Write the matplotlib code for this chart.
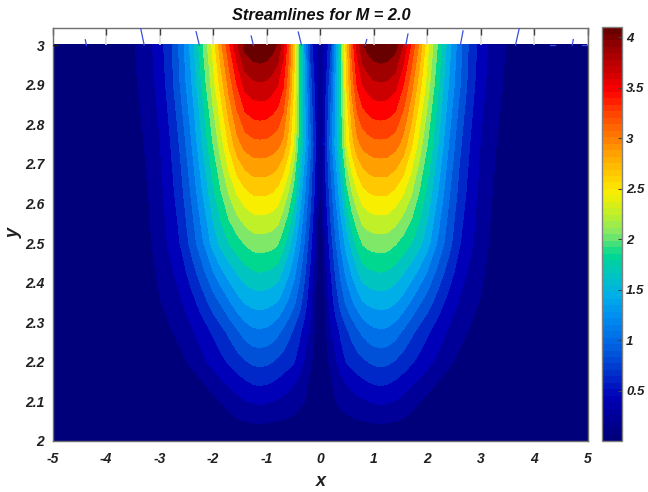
#!/usr/bin/env python3
"""Streamlines for M = 2.0 - filled contours of the field, mirrored about x = 0."""

import numpy as np
import matplotlib
matplotlib.use('Agg')
import matplotlib.pyplot as plt
from matplotlib.colors import ListedColormap, LinearSegmentedColormap, BoundaryNorm, Normalize
from matplotlib.cm import ScalarMappable

plt.rcParams['font.family'] = ['Liberation Sans', 'DejaVu Sans']
plt.rcParams['font.weight'] = 'bold'
plt.rcParams['font.style'] = 'italic'

# field, for x >= 0 only (right half mirrors the left)
x_half = [0, .05, .1, .2, .3, .4, .5, .6, .7, .8, .9, 1.0, 1.13, 1.25, 1.4, 1.55,
          1.7, 1.85, 2.0, 2.2, 2.4, 2.6, 2.8, 3.0, 3.2, 3.5, 4, 5]
y_rows = [2.0, 2.05, 2.1, 2.15, 2.2, 2.275, 2.35, 2.425, 2.5, 2.625, 2.75, 2.9, 3.0]
field_rows = [
    [0, .001, .002, .004, .006, .007, .008, .009, .01, .011, .011, .012, .012, .012,
     .011, .01, .008, .006, .005, .004, .003, .002, .001, .001, .001, 0, 0, 0],
    [.005, .01, .025, .06, .1, .13, .15, .165, .18, .19, .2, .21, .216, .21,
     .195, .17, .135, .105, .08, .055, .035, .025, .015, .01, .006, .004, .002, .001],
    [.01, .02, .05, .12, .2, .24, .28, .31, .34, .365, .385, .405, .42, .405,
     .38, .33, .26, .2, .15, .1, .07, .045, .03, .02, .012, .008, .005, .003],
    [.015, .035, .085, .17, .27, .35, .41, .465, .51, .55, .585, .61, .625, .61,
     .565, .5, .43, .36, .28, .19, .12, .08, .05, .03, .02, .012, .007, .004],
    [.02, .05, .12, .24, .37, .5, .6, .65, .7, .74, .78, .815, .83, .815,
     .76, .69, .61, .53, .45, .34, .23, .15, .09, .06, .04, .02, .01, .005],
    [.025, .065, .16, .355, .5, .63, .74, .84, .93, 1.015, 1.075, 1.115, 1.135, 1.12,
     1.055, .94, .82, .71, .61, .48, .36, .25, .175, .12, .07, .035, .015, .007],
    [.03, .08, .195, .47, .68, .87, 1.02, 1.14, 1.25, 1.35, 1.395, 1.425, 1.44, 1.428,
     1.378, 1.28, 1.14, 1.0, .87, .68, .51, .37, .26, .18, .1, .05, .02, .01],
    [.06, .11, .29, .57, .82, 1.04, 1.23, 1.39, 1.53, 1.66, 1.71, 1.73, 1.75, 1.73,
     1.67, 1.57, 1.45, 1.31, 1.15, .9, .68, .48, .34, .23, .13, .06, .02, .01],
    [.1, .15, .39, .68, .97, 1.22, 1.45, 1.64, 1.82, 1.97, 2.02, 2.04, 2.05, 2.04,
     1.97, 1.87, 1.76, 1.62, 1.44, 1.13, .85, .6, .43, .28, .16, .07, .03, .01],
    [.18, .25, .52, .88, 1.2, 1.52, 1.86, 2.13, 2.32, 2.46, 2.52, 2.55, 2.56, 2.55,
     2.48, 2.35, 2.16, 1.93, 1.7, 1.35, 1.0, .71, .5, .33, .2, .09, .03, .01],
    [.25, .36, .62, 1.05, 1.45, 1.85, 2.34, 2.65, 2.87, 2.98, 3.03, 3.06, 3.07, 3.06,
     3.0, 2.85, 2.57, 2.25, 1.95, 1.56, 1.16, .82, .575, .375, .23, .11, .04, .01],
    [.28, .36, .52, .9, 1.4, 1.95, 2.55, 3.0, 3.35, 3.52, 3.6, 3.66, 3.68, 3.66,
     3.58, 3.32, 3.0, 2.62, 2.25, 1.78, 1.35, 1.0, .68, .46, .3, .15, .05, .02],
    [.3, .35, .42, .72, 1.3, 1.95, 2.65, 3.2, 3.6, 3.88, 3.99, 4.06, 4.09, 4.07,
     3.98, 3.68, 3.28, 2.88, 2.4, 1.92, 1.45, 1.05, .72, .5, .33, .17, .06, .02],
]

# contour bands, low to high
band_colors = ['#00007a', '#000098', '#0000b8', '#0028c8', '#0050d8', '#0070e8', '#0090f0',
               '#00aee8', '#00c4c0', '#00d890', '#80e868', '#c0f028', '#f8ee00', '#ffc800',
               '#ffa000', '#ff7000', '#ff4000', '#ff0000', '#cc0000', '#a00000', '#680000']
z_min = 0.0
z_max = 4.1

# streamline stubs poking above y = 3
stub_x_top = [-4.39, -3.355, -2.32, -1.29, -0.41, 0.87, 1.64, 2.67, 3.72, 4.73]
stub_x_bot = [-4.37, -3.29, -2.26, -1.25, -0.35, 0.84, 1.60, 2.62, 3.65, 4.71]
stub_y_top = [3.0134, 3.042, 3.034, 3.023, 3.033, 3.014, 3.028, 3.036, 3.042, 3.014]

x_ticks = [-5, -4, -3, -2, -1, 0, 1, 2, 3, 4, 5]
y_ticks = [2, 2.1, 2.2, 2.3, 2.4, 2.5, 2.6, 2.7, 2.8, 2.9, 3]
y_tick_labels = ['2', '2.1', '2.2', '2.3', '2.4', '2.5', '2.6', '2.7', '2.8', '2.9', '3']
cbar_ticks = [0.5, 1, 1.5, 2, 2.5, 3, 3.5, 4]
cbar_labels = ['0.5', '1', '1.5', '2', '2.5', '3', '3.5', '4']

W, H = 648, 492
fig = plt.figure(figsize=(W / 100, H / 100), dpi=100)
ax = fig.add_axes([52.7 / W, (H - 441) / H, 535 / W, 413.3 / H])
cax = fig.add_axes([601.7 / W, (H - 441) / H, 20.3 / W, 413.7 / H])

half = np.array(field_rows)
x_half = np.array(x_half)
x_full = np.concatenate([-x_half[:0:-1], x_half])
field = np.hstack([half[:, :0:-1], half])

levels = np.linspace(z_min, z_max, len(band_colors) + 1)
cmap = ListedColormap(band_colors)
cs = ax.contourf(x_full, y_rows, field, levels=levels, cmap=cmap,
                 norm=BoundaryNorm(levels, cmap.N), extend='both')
cs.set_edgecolor('face')
cs.set_linewidth(0.3)

# pale continuation of the top ticks, and the streamline stubs
ax.vlines(x_ticks, 3.0, 3.044, color='#dcdcdc', lw=1.2, zorder=1)
for x0, x1, yt in zip(stub_x_top, stub_x_bot, stub_y_top):
    ax.plot([x0, x1], [yt, 3.0], color='#3a4fe0', lw=0.9, zorder=3)
ax.plot([4.3, 4.39], [3.0, 3.0], color='#3a4fe0', lw=0.9, zorder=3)
ax.plot([4.89, 4.98], [3.0, 3.0], color='#3a4fe0', lw=0.9, zorder=3)
ax.plot([-5, -4.9], [3.0, 3.0], color='#202020', lw=1.0, zorder=3)

ax.set_xlim(-5, 5)
ax.set_ylim(2, 3.044)
ax.set_xticks(x_ticks)
ax.set_xticklabels([str(t) for t in x_ticks])
ax.set_yticks(y_ticks)
ax.set_yticklabels(y_tick_labels)
ax.tick_params(axis='x', which='major', direction='in', top=True, bottom=False,
               length=5, width=1.0, color='#404040', labelsize=10, pad=8, labelcolor='#202020')
ax.tick_params(axis='y', which='major', direction='in', left=False,
               length=0, labelsize=10, pad=6, labelcolor='#202020')
for spine in ax.spines.values():
    spine.set_color('#707070')
    spine.set_linewidth(1.0)

fig.text(321 / W, (H - 16) / H, 'Streamlines for M = 2.0', ha='center', va='center',
         fontsize=11.8, color='#101010')
fig.text(320.5 / W, (H - 481) / H, 'x', ha='center', va='center', fontsize=13, color='#202020')
fig.text(14 / W, (H - 233) / H, 'y', ha='center', va='center', rotation=90, fontsize=13,
         color='#202020')

# colour bar runs the same colours in 64 even steps
bar_cmap = LinearSegmentedColormap.from_list('bar', band_colors, N=64)
bar = ScalarMappable(norm=Normalize(z_min, z_max), cmap=bar_cmap)
cb = fig.colorbar(bar, cax=cax, ticks=cbar_ticks)
cb.ax.set_yticklabels(cbar_labels)
cb.ax.tick_params(direction='in', length=3, width=0.8, color='#404040', labelsize=9.5, pad=3,
                  labelcolor='#202020')
cb.outline.set_edgecolor('#808080')
cb.outline.set_linewidth(1.0)

fig.savefig('out.png', dpi=100)
plt.close()
